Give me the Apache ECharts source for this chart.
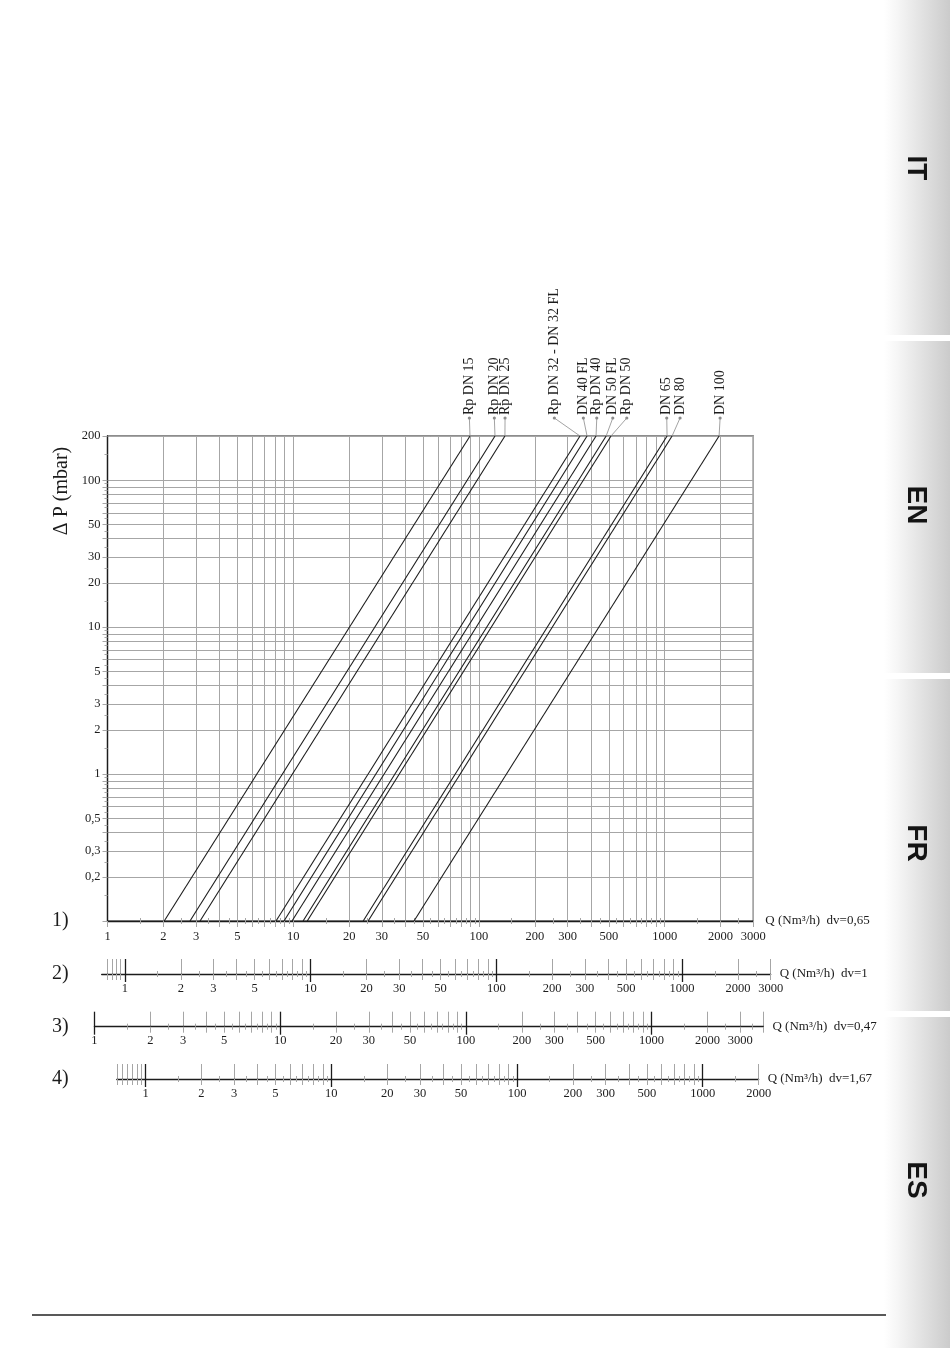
<!DOCTYPE html>
<html><head><meta charset="utf-8">
<script src="https://cdn.jsdelivr.net/npm/echarts@6/dist/echarts.min.js"></script>
<style>html,body{margin:0;padding:0;background:#fff;}#c{width:950px;height:1348px;}</style>
</head><body><div id="c"></div>
<script>
// ---------------- data ----------------
const seriesNames = ['Rp DN 15','Rp DN 20','Rp DN 25','Rp DN 32 - DN 32 FL','DN 40 FL','Rp DN 40','DN 50 FL','Rp DN 50','DN 65','DN 80','DN 100'];
const flowAtMinDrop = [2.02, 2.78, 3.15, 8.08, 8.92, 9.85, 11.3, 11.9, 23.8, 25.3, 44.7];   // Q (Nm3/h) at 0.1 mbar
const flowAtMaxDrop = [89.5, 122, 138, 350, 382, 427, 484, 514, 1030, 1096, 1963];           // Q (Nm3/h) at 200 mbar
const dropRange = [0.1, 200];                                                               // ΔP (mbar)
const labelAnchorQ = [88.8, 121, 138.2, 254.7, 364.9, 430.9, 525.5, 625.2, 1026, 1210, 1988];

const mainXLabels = [1,2,3,5,10,20,30,50,100,200,300,500,1000,2000,3000];
const mainYLabels = [0.2,0.3,0.5,1,2,3,5,10,20,30,50,100,200];
const scale2Labels = [1,2,3,5,10,20,30,50,100,200,300,500,1000,2000,3000];
const scale3Labels = [1,2,3,5,10,20,30,50,100,200,300,500,1000,2000,3000];
const scale4Labels = [1,2,3,5,10,20,30,50,100,200,300,500,1000,2000];
const scaleDv = [0.65, 1, 0.47, 1.67];
const scaleDvText = ['0,65', '1', '0,47', '1,67'];
const scaleRanges = [[1, 3000], [0.75, 3000], [1, 4000], [0.7, 2000]];
const subLeftTicks = [[], [0.8, 0.85, 0.9, 0.95], [], [0.7, 0.75, 0.8, 0.85, 0.9, 0.95]];

// ---------------- helpers ----------------
function logTicks(min, max, mults) {
  const out = [];
  for (let e = -2; e <= 4; e++) for (const m of mults) {
    const v = Number((m * Math.pow(10, e)).toPrecision(6));
    if (v >= min - 1e-9 && v <= max + 1e-9) out.push(v);
  }
  return out;
}
const MAJ = [1,2,3,4,5,6,7,8,9];
const MINR = [1.5,2.5,3.5,4.5,5.5,6.5,7.5,8.5,9.5];

const FONT = 'Liberation Serif';
const GRAY = '#a6a6a6';
const INK = '#1c1c1c';
const L = 107.5, R = 753.3, T = 436, B = 921;
const DEC = (R - L) / Math.log10(scaleRanges[0][1] / scaleRanges[0][0]);
const subLineY = [B, 974, 1026.7, 1079];
const fmt = v => String(v).replace('.', ',');

function px(v, dv) {
  const f = Math.sqrt(scaleDv[0] / dv);
  return L + DEC * Math.log10(v / f);
}

const chart = echarts.init(document.getElementById('c'), null, {renderer: 'canvas'});

const grids = [{left: L, top: T, width: R - L, height: B - T, show: true, borderColor: INK, borderWidth: 1.2, backgroundColor: 'transparent'}];
const xAxes = [];
const yAxes = [];

const nameStyle = {fontFamily: FONT, fontSize: 13, color: INK, verticalAlign: 'middle', align: 'left'};
const labelStyle = {fontFamily: FONT, fontSize: 12.5, color: INK, formatter: fmt};

// main x axes
const mainMajX = logTicks(1, 3000, MAJ);
const mainMinX = logTicks(1, 3000, MINR);
xAxes.push({
  type: 'log', logBase: 10, gridIndex: 0, min: 1, max: 3000, position: 'bottom',
  axisLine: {show: true, onZero: false, lineStyle: {color: INK, width: 1.3}},
  axisTick: {show: true, customValues: mainMajX, length: 6, lineStyle: {color: GRAY}},
  splitLine: {show: true, lineStyle: {color: GRAY, width: 1}},
  axisLabel: Object.assign({customValues: mainXLabels, margin: 9}, labelStyle),
  name: 'Q (Nm³/h)  dv=' + scaleDvText[0], nameLocation: 'end', nameGap: 12, nameTextStyle: nameStyle
});
xAxes.push({
  type: 'log', logBase: 10, gridIndex: 0, min: 1, max: 3000, position: 'bottom',
  axisLine: {show: false, onZero: false}, axisLabel: {show: false}, splitLine: {show: false},
  axisTick: {show: true, customValues: mainMinX, length: 3, lineStyle: {color: GRAY}}
});
xAxes.push({
  type: 'log', logBase: 10, gridIndex: 0, min: 1, max: 3000, position: 'bottom',
  axisLine: {show: false, onZero: false}, axisLabel: {show: false}, splitLine: {show: false},
  axisTick: {show: true, inside: true, customValues: mainMinX, length: 3, lineStyle: {color: GRAY}}
});

// main y axes
const mainMajY = logTicks(0.1, 200, MAJ);
const mainMinY = logTicks(0.1, 200, MINR);
yAxes.push({
  type: 'log', logBase: 10, gridIndex: 0, min: 0.1, max: 200, position: 'left',
  axisLine: {show: true, onZero: false, lineStyle: {color: INK, width: 1.3}},
  axisTick: {show: true, customValues: mainMajY, length: 5, lineStyle: {color: GRAY}},
  splitLine: {show: true, lineStyle: {color: GRAY, width: 1}},
  axisLabel: Object.assign({customValues: mainYLabels, margin: 7}, labelStyle)
});
yAxes.push({
  type: 'log', logBase: 10, gridIndex: 0, min: 0.1, max: 200, position: 'left',
  axisLine: {show: false}, axisLabel: {show: false}, splitLine: {show: false},
  axisTick: {show: true, customValues: mainMinY, length: 3, lineStyle: {color: GRAY}}
});

// secondary flow scales
const subLabels = [null, scale2Labels, scale3Labels, scale4Labels];
for (let k = 1; k <= 3; k++) {
  const [mn, mx] = scaleRanges[k];
  const dv = scaleDv[k];
  const gi = grids.length;
  const left = px(mn, dv), right = px(mx, dv);
  grids.push({left: left, width: right - left, top: subLineY[k] - 15, height: 15, show: false});
  yAxes.push({type: 'value', gridIndex: gi, show: false, min: 0, max: 1});
  const majors = logTicks(Math.max(mn, 1), mx, [2,3,4,5,6,7,8,9]).concat(subLeftTicks[k]);
  const decades = logTicks(mn, mx, [1]);
  const minors = logTicks(Math.max(mn, 1), mx, MINR);
  const base = {type: 'log', logBase: 10, gridIndex: gi, min: mn, max: mx, position: 'bottom'};
  xAxes.push(Object.assign({}, base, {
    axisLine: {show: true, onZero: false, lineStyle: {color: INK, width: 1.3}},
    axisTick: {show: true, customValues: majors, length: 6, lineStyle: {color: GRAY}},
    splitLine: {show: true, lineStyle: {color: GRAY, width: 1}},
    axisLabel: Object.assign({customValues: subLabels[k], margin: 8}, labelStyle),
    name: 'Q (Nm³/h)  dv=' + scaleDvText[k], nameLocation: 'end', nameGap: 9, nameTextStyle: nameStyle
  }));
  xAxes.push(Object.assign({}, base, {
    axisLine: {show: false, onZero: false}, axisLabel: {show: false},
    axisTick: {show: true, customValues: decades, length: 8, lineStyle: {color: INK, width: 1.3}},
    splitLine: {show: true, lineStyle: {color: INK, width: 1.3}}
  }));
  xAxes.push(Object.assign({}, base, {
    axisLine: {show: false, onZero: false}, axisLabel: {show: false}, splitLine: {show: false},
    axisTick: {show: true, customValues: minors, length: 3, lineStyle: {color: GRAY}}
  }));
  xAxes.push(Object.assign({}, base, {
    axisLine: {show: false, onZero: false}, axisLabel: {show: false}, splitLine: {show: false},
    axisTick: {show: true, inside: true, customValues: minors, length: 3, lineStyle: {color: GRAY}}
  }));
}

const series = seriesNames.map((n, i) => ({
  name: n, type: 'line', xAxisIndex: 0, yAxisIndex: 0, symbol: 'none', silent: true,
  lineStyle: {color: INK, width: 1.1},
  data: [[flowAtMinDrop[i], dropRange[0]], [flowAtMaxDrop[i], dropRange[1]]]
}));

chart.setOption({animation: false, backgroundColor: '#fff', grid: grids, xAxis: xAxes, yAxis: yAxes, series: series});

// ---------------- annotations ----------------
const g = [];
// side tabs
const tabs = [['IT', 0, 335, 168], ['EN', 341, 673, 505], ['FR', 679, 1011, 843], ['ES', 1017, 1348, 1180]];
tabs.forEach(([t, y0, y1, yc]) => {
  g.push({type: 'rect', silent: true, shape: {x: 884, y: y0, width: 66, height: y1 - y0},
    style: {fill: {type: 'linear', x: 0, y: 0, x2: 1, y2: 0, colorStops: [{offset: 0, color: '#ffffff'}, {offset: 0.2, color: '#f6f6f6'}, {offset: 1, color: '#cbcbcb'}]}}});
  g.push({type: 'text', silent: true, x: 916, y: yc, rotation: -Math.PI / 2,
    style: {text: t, fontFamily: 'Liberation Sans', fontWeight: 'bold', fontSize: 28, fill: '#141414', align: 'center', verticalAlign: 'middle'}});
});
// bottom rule
g.push({type: 'line', silent: true, shape: {x1: 32, y1: 1315, x2: 886, y2: 1315}, style: {stroke: '#222', lineWidth: 1.5}});
// y title
g.push({type: 'text', silent: true, x: 62, y: 491, rotation: Math.PI / 2,
  style: {text: 'Δ P (mbar)', fontFamily: FONT, fontSize: 20, fill: INK, align: 'center', verticalAlign: 'middle'}});
// scale numbers
['1)', '2)', '3)', '4)'].forEach((t, k) => {
  g.push({type: 'text', silent: true, x: 52, y: subLineY[k], style: {text: t, fontFamily: FONT, fontSize: 20, fill: INK, align: 'left', verticalAlign: 'middle'}});
});
// curve labels with leader lines
seriesNames.forEach((n, i) => {
  const end = chart.convertToPixel({xAxisIndex: 0, yAxisIndex: 0}, [flowAtMaxDrop[i], dropRange[1]]);
  const anc = chart.convertToPixel({xAxisIndex: 0, yAxisIndex: 0}, [labelAnchorQ[i], dropRange[1]]);
  const ay = anc[1] - 18;
  g.push({type: 'line', silent: true, shape: {x1: anc[0], y1: ay, x2: end[0], y2: end[1]}, style: {stroke: '#8c8c8c', lineWidth: 0.8}});
  g.push({type: 'circle', silent: true, shape: {cx: anc[0], cy: ay, r: 1.6}, style: {fill: '#8c8c8c'}});
  g.push({type: 'text', silent: true, x: anc[0], y: ay - 3, rotation: Math.PI / 2,
    style: {text: n, fontFamily: FONT, fontSize: 14, fill: INK, align: 'left', verticalAlign: 'middle'}});
});
chart.setOption({graphic: g});
</script></body></html>
